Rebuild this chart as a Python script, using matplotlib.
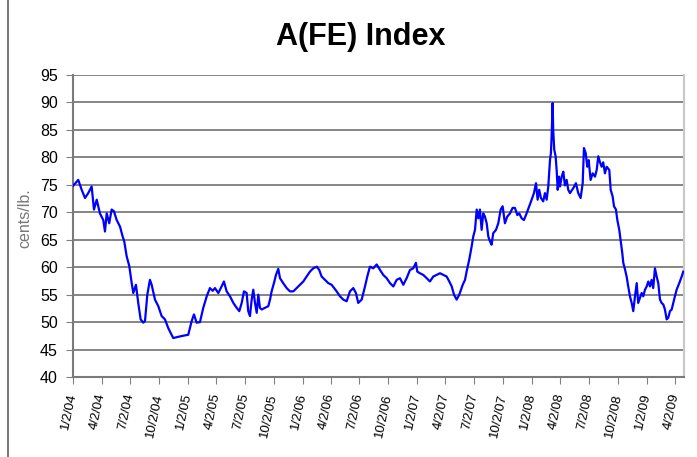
import matplotlib
matplotlib.use("Agg")
import matplotlib.pyplot as plt
import numpy as np
import pandas as pd
from matplotlib.lines import Line2D

plt.rcParams["font.family"] = ["Liberation Sans", "DejaVu Sans"]

TITLE = "A(FE) Index"
YLABEL = "cents/lb."

# positions, in years after 1/2/04
YEARS = [
    0.000, 0.046, 0.076, 0.105, 0.133, 0.163, 0.183, 0.207, 0.235, 0.264,
    0.279, 0.294, 0.316, 0.337, 0.357, 0.381, 0.410, 0.433, 0.447, 0.468,
    0.491, 0.512, 0.526, 0.549, 0.569, 0.590, 0.613, 0.628, 0.648, 0.671,
    0.686, 0.715, 0.744, 0.773, 0.802, 0.831, 0.874, 0.933, 1.005, 1.035,
    1.055, 1.078, 1.107, 1.136, 1.166, 1.194, 1.218, 1.238, 1.267, 1.296,
    1.316, 1.340, 1.369, 1.398, 1.427, 1.450, 1.471, 1.491, 1.514, 1.528,
    1.543, 1.558, 1.572, 1.587, 1.602, 1.616, 1.630, 1.645, 1.674, 1.703,
    1.718, 1.732, 1.752, 1.770, 1.790, 1.805, 1.833, 1.863, 1.892, 1.921,
    1.950, 1.979, 2.008, 2.037, 2.066, 2.095, 2.125, 2.147, 2.168, 2.197,
    2.226, 2.255, 2.299, 2.328, 2.357, 2.386, 2.415, 2.444, 2.467, 2.487,
    2.517, 2.546, 2.566, 2.589, 2.618, 2.648, 2.677, 2.705, 2.735, 2.764,
    2.793, 2.822, 2.851, 2.880, 2.909, 2.938, 2.967, 2.990, 3.002, 3.025,
    3.054, 3.084, 3.112, 3.141, 3.171, 3.200, 3.228, 3.258, 3.281, 3.302,
    3.322, 3.345, 3.368, 3.398, 3.418, 3.432, 3.455, 3.476, 3.490, 3.505,
    3.520, 3.534, 3.548, 3.563, 3.577, 3.592, 3.607, 3.621, 3.636, 3.650,
    3.664, 3.688, 3.708, 3.729, 3.746, 3.766, 3.786, 3.810, 3.833, 3.853,
    3.874, 3.891, 3.912, 3.932, 3.955, 3.978, 3.999, 4.019, 4.037, 4.051,
    4.065, 4.080, 4.100, 4.115, 4.130, 4.144, 4.159, 4.167, 4.173, 4.182,
    4.187, 4.196, 4.208, 4.217, 4.226, 4.237, 4.246, 4.261, 4.275, 4.289,
    4.304, 4.318, 4.333, 4.362, 4.385, 4.405, 4.426, 4.444, 4.455, 4.470,
    4.484, 4.496, 4.513, 4.531, 4.551, 4.566, 4.580, 4.595, 4.609, 4.623,
    4.638, 4.653, 4.676, 4.688, 4.705, 4.717, 4.734, 4.746, 4.763, 4.778,
    4.789, 4.798, 4.813, 4.827, 4.841, 4.856, 4.871, 4.885, 4.900, 4.915,
    4.928, 4.943, 4.958, 4.972, 4.987, 5.002, 5.016, 5.031, 5.045, 5.059,
    5.074, 5.089, 5.103, 5.118, 5.132, 5.147, 5.161, 5.176, 5.190, 5.205,
    5.220, 5.234, 5.248, 5.263, 5.286, 5.307, 5.321,
]
INDEX = [
    74.8, 75.9, 74.1, 72.6, 73.5, 74.7, 70.5, 72.3, 69.8, 68.6,
    66.5, 69.8, 68.0, 70.5, 70.2, 68.6, 67.4, 65.6, 64.7, 62.0,
    60.2, 57.1, 55.3, 56.8, 53.5, 50.5, 49.9, 50.2, 55.0, 57.7,
    56.8, 54.1, 52.9, 51.1, 50.5, 48.9, 47.1, 47.4, 47.7, 50.2,
    51.4, 49.9, 50.0, 52.6, 54.7, 56.2, 55.7, 56.2, 55.3, 56.5,
    57.4, 55.6, 54.7, 53.5, 52.6, 52.0, 53.5, 55.6, 55.3, 52.0,
    51.1, 54.1, 55.9, 53.5, 51.7, 55.0, 52.6, 52.3, 52.6, 52.9,
    54.1, 55.6, 57.1, 58.6, 59.7, 58.0, 57.1, 56.2, 55.6, 55.6,
    56.2, 56.8, 57.4, 58.3, 59.2, 59.8, 60.1, 59.5, 58.3, 57.7,
    57.1, 56.8, 55.6, 54.7, 54.1, 53.8, 55.6, 56.2, 55.3, 53.5,
    54.1, 56.5, 58.3, 60.1, 59.8, 60.5, 59.5, 58.6, 58.0, 57.1,
    56.5, 57.7, 58.0, 56.8, 58.0, 59.5, 59.8, 60.8, 59.2, 58.9,
    58.6, 58.0, 57.4, 58.3, 58.6, 58.9, 58.6, 58.3, 57.4, 56.5,
    55.0, 54.1, 55.0, 56.8, 57.7, 59.2, 61.4, 63.8, 65.6, 66.8,
    70.5, 68.9, 70.5, 66.8, 69.8, 69.2, 68.0, 65.6, 64.7, 64.1,
    66.2, 66.8, 68.0, 70.5, 71.1, 68.0, 69.2, 69.8, 70.8, 70.8,
    69.5, 69.8, 68.9, 68.6, 69.8, 71.1, 72.3, 73.5, 75.3, 72.3,
    74.1, 72.6, 72.0, 73.5, 72.3, 74.7, 79.5, 80.8, 83.8, 89.9,
    85.0, 81.4, 80.2, 77.7, 74.1, 76.5, 74.7, 76.5, 77.4, 74.9,
    75.9, 74.1, 73.5, 74.4, 75.3, 73.5, 72.6, 75.3, 81.7, 80.8,
    78.3, 79.5, 75.9, 77.1, 76.5, 77.7, 80.2, 79.1, 78.3, 79.1,
    77.1, 78.3, 77.7, 74.1, 72.9, 71.1, 70.5, 68.6, 66.8, 64.4,
    62.6, 60.8, 59.6, 58.3, 56.5, 54.7, 53.5, 52.0, 54.7, 57.1,
    53.5, 54.4, 55.3, 54.7, 55.9, 56.5, 57.4, 56.5, 57.7, 56.2,
    59.8, 58.3, 57.1, 54.1, 53.5, 53.2, 52.3, 50.5, 50.8, 52.0,
    52.3, 53.5, 54.7, 55.9, 57.1, 58.3, 59.2,
]

START = pd.Timestamp("2004-01-02")
TICK_DATES = pd.to_datetime(
    [f"{y}-{m:02d}-02" for y in range(2004, 2010) for m in (1, 4, 7, 10)]
)
TICK_DATES = TICK_DATES[TICK_DATES <= pd.Timestamp("2009-04-02")]
YTICKS = list(range(40, 100, 5))


def to_dates(years):
    return START + pd.to_timedelta(np.asarray(years) * 365.25, unit="D")


def main():
    fig = plt.figure(figsize=(6.97, 4.57), dpi=100)
    ax = fig.add_axes([0.1047, 0.175, 0.8766, 0.6608])

    dates = to_dates(YEARS)
    ax.plot(dates, INDEX, color="#0000ff", lw=1.6, zorder=3)

    ax.set_ylim(40, 95)
    ax.set_yticks(YTICKS)
    ax.set_xlim(START, START + pd.Timedelta(days=5.327 * 365.25))
    ax.set_xticks(TICK_DATES)
    ax.set_xticklabels(
        [f"{d.month}/{d.day}/{d.strftime('%y')}" for d in TICK_DATES],
        rotation=78,
        ha="right",
        va="center",
        rotation_mode="anchor",
        fontsize=9.5,
    )
    ax.tick_params(axis="y", labelsize=11.5, length=5, pad=6, color="#808080")
    ax.tick_params(axis="x", length=5, pad=7, color="#808080")

    ax.grid(axis="y", color="#858585", lw=1.4)
    ax.set_axisbelow(True)
    ax.spines["top"].set_visible(False)
    ax.spines["right"].set_color("#c8c8c8")
    for side in ("left", "bottom"):
        ax.spines[side].set_color("#7a7a7a")
    for side in ("left", "bottom", "right"):
        ax.spines[side].set_linewidth(1.5)

    fig.text(25 / 697, 1 - 218 / 457, YLABEL, rotation=90, ha="center",
             va="center", fontsize=11.5, color="#777777")
    fig.text(361 / 697, 1 - 37 / 457, TITLE, ha="center", va="center",
             fontsize=22, fontweight="bold")

    fig.add_artist(Line2D([8 / 697, 8 / 697], [0, 1], color="#606060", lw=1.2,
                          transform=fig.transFigure))

    fig.savefig("out.png", dpi=100, facecolor="white")


if __name__ == "__main__":
    main()
